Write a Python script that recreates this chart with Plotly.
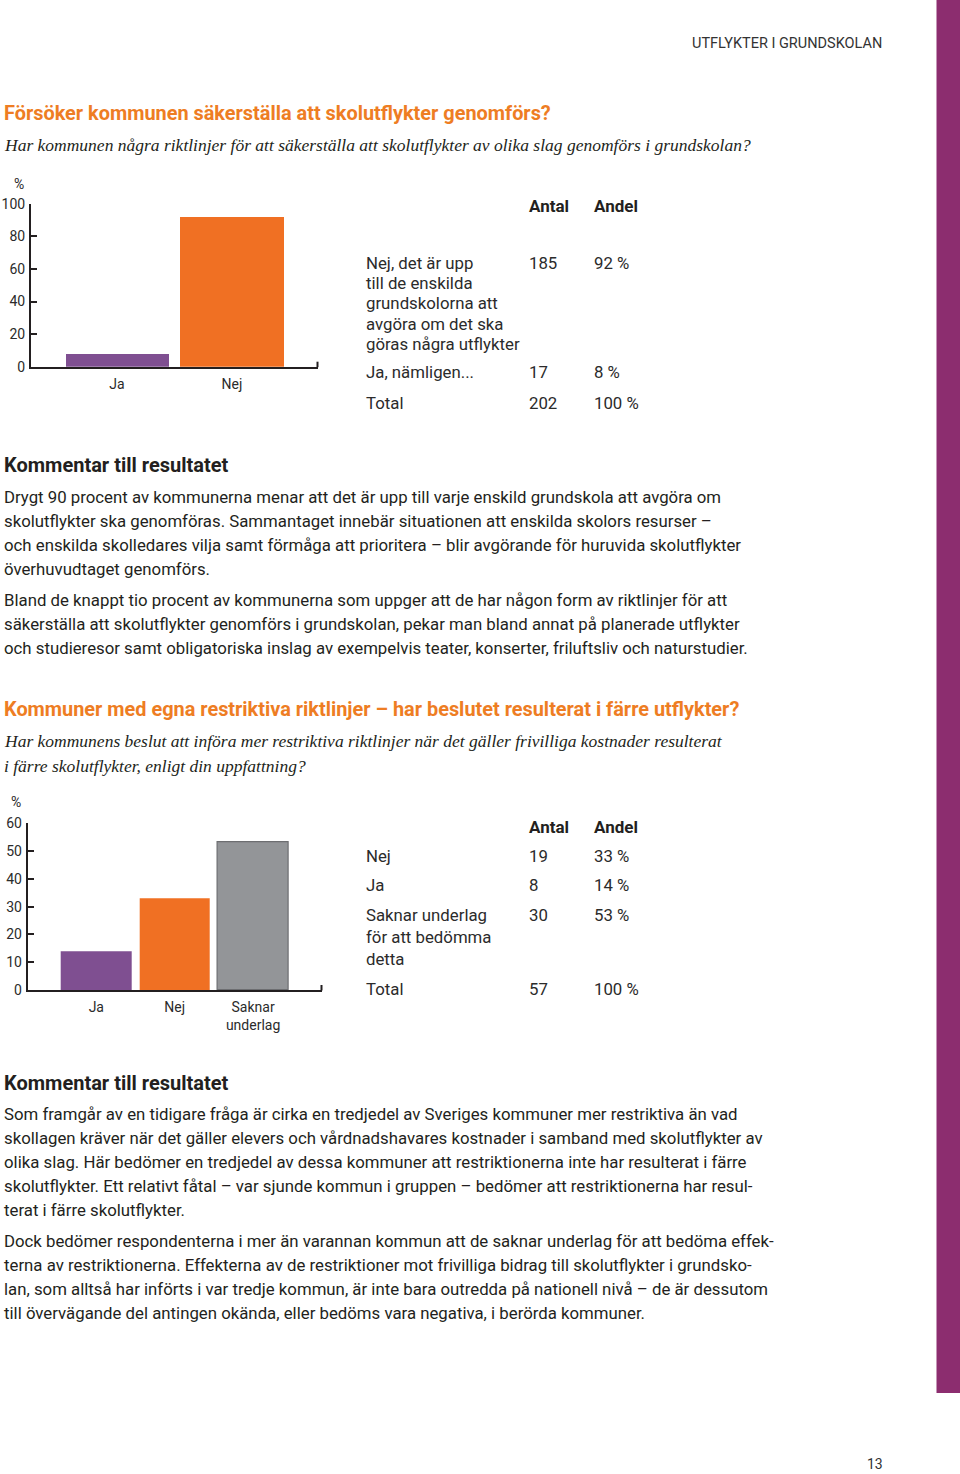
import plotly.graph_objects as go

W, H = 960, 1474

# ---------------- data ----------------
cat1 = ["Ja", "Nej"]
pct1 = [8, 92]
col1 = ["#7f4f91", "#f07023"]
y1_ticks = [0, 20, 40, 60, 80, 100]
tab1_labels = ["Nej, det är upp\ntill de enskilda\ngrundskolorna att\navgöra om det ska\ngöras några utflykter",
               "Ja, nämligen...", "Total"]
tab1_antal = [185, 17, 202]
tab1_andel = [92, 8, 100]

cat2 = ["Ja", "Nej", "Saknar<br>underlag"]
pct2 = [14, 33, 53]
col2 = ["#7f4f91", "#f07023", "#939598"]
y2_ticks = [0, 10, 20, 30, 40, 50, 60]
tab2_labels = ["Nej", "Ja", "Saknar underlag\nför att bedömma\ndetta", "Total"]
tab2_antal = [19, 8, 30, 57]
tab2_andel = [33, 14, 53, 100]

title1 = "Försöker kommunen säkerställa att skolutflykter genomförs?"
sub1 = ["Har kommunen några riktlinjer för att säkerställa att skolutflykter av olika slag genomförs i grundskolan?"]
body1 = [
    ["Drygt 90 procent av kommunerna menar att det är upp till varje enskild grundskola att avgöra om",
     "skolutflykter ska genomföras. Sammantaget innebär situationen att enskilda skolors resurser –",
     "och enskilda skolledares vilja samt förmåga att prioritera – blir avgörande för huruvida skolutflykter",
     "överhuvudtaget genomförs."],
    ["Bland de knappt tio procent av kommunerna som uppger att de har någon form av riktlinjer för att",
     "säkerställa att skolutflykter genomförs i grundskolan, pekar man bland annat på planerade utflykter",
     "och studieresor samt obligatoriska inslag av exempelvis teater, konserter, friluftsliv och naturstudier."],
]
title2 = "Kommuner med egna restriktiva riktlinjer – har beslutet resulterat i färre utflykter?"
sub2 = ["Har kommunens beslut att införa mer restriktiva riktlinjer när det gäller frivilliga kostnader resulterat",
        "i färre skolutflykter, enligt din uppfattning?"]
body2 = [
    ["Som framgår av en tidigare fråga är cirka en tredjedel av Sveriges kommuner mer restriktiva än vad",
     "skollagen kräver när det gäller elevers och vårdnadshavares kostnader i samband med skolutflykter av",
     "olika slag. Här bedömer en tredjedel av dessa kommuner att restriktionerna inte har resulterat i färre",
     "skolutflykter. Ett relativt fåtal – var sjunde kommun i gruppen – bedömer att restriktionerna har resul-",
     "terat i färre skolutflykter."],
    ["Dock bedömer respondenterna i mer än varannan kommun att de saknar underlag för att bedöma effek-",
     "terna av restriktionerna. Effekterna av de restriktioner mot frivilliga bidrag till skolutflykter i grundsko-",
     "lan, som alltså har införts i var tredje kommun, är inte bara outredda på nationell nivå – de är dessutom",
     "till övervägande del antingen okända, eller bedöms vara negativa, i berörda kommuner."],
]
comment_head = "Kommentar till resultatet"
header = "UTFLYKTER I GRUNDSKOLAN"
page_no = "13"

# ---------------- helpers ----------------
SANS = "Roboto"
SERIF = "Liberation Serif"
DARK = "#231f20"
TXT = "#2b2b2b"
ORANGE = "#ee7d23"
BODY = 16.8


def px(x):
    return x / W


def py(y):
    return 1 - y / H


annotations = []


def text(x, y, s, size=BODY, color=TXT, weight="normal", style="normal", family=SANS, xanchor="left"):
    if xanchor == "left":
        x -= 2
    elif xanchor == "right":
        x += 2
    annotations.append(dict(x=px(x), y=py(y), xref="paper", yref="paper", text=s, showarrow=False,
                            xanchor=xanchor, yanchor="middle", align="left",
                            font=dict(size=size, color=color, family=family, weight=weight, style=style)))


fig = go.Figure()

fig.add_trace(go.Bar(x=cat1, y=pct1, marker=dict(color=col1, line=dict(width=0)), width=0.896,
                     xaxis="x", yaxis="y", showlegend=False, hoverinfo="x+y"))
fig.add_trace(go.Bar(x=cat2, y=pct2,
                     marker=dict(color=col2, line=dict(color=["#6d6e71"] * 3, width=[0, 0, 1.2])),
                     width=0.905, xaxis="x2", yaxis="y2", showlegend=False, hoverinfo="x+y"))

axis_common = dict(showgrid=False, zeroline=False, showline=True, linecolor=DARK, linewidth=2,
                   tickfont=dict(size=14, color=TXT, family=SANS), fixedrange=True, automargin=False)

c1_left, c1_right, c1_top, c1_bot = 31, 318, 203.7, 366.7
c2_left, c2_right, c2_top, c2_bot = 27.7, 322, 823.3, 990

fig.update_layout(
    width=W, height=H, margin=dict(l=0, r=0, t=0, b=0, pad=0, autoexpand=False),
    paper_bgcolor="white", plot_bgcolor="white", bargap=0, showlegend=False,
    xaxis=dict(domain=[px(c1_left), px(c1_right)], range=[-0.748, 1.748], anchor="y",
               ticks="", ticklabelstandoff=3, **axis_common),
    yaxis=dict(domain=[py(c1_bot), py(c1_top)], range=[0, 100], anchor="x", tickvals=y1_ticks,
               ticks="inside", ticklen=6, tickwidth=1.5, tickcolor=DARK, ticklabelstandoff=1, **axis_common),
    xaxis2=dict(domain=[px(c2_left), px(c2_right)], range=[-0.875, 2.879], anchor="y2",
                ticks="", ticklabelstandoff=3, **axis_common),
    yaxis2=dict(domain=[py(c2_bot), py(c2_top)], range=[0, 60], anchor="x2", tickvals=y2_ticks,
                ticks="inside", ticklen=6, tickwidth=1.5, tickcolor=DARK, ticklabelstandoff=1, **axis_common),
)

shapes = [
    dict(type="rect", xref="paper", yref="paper", x0=px(936.5), x1=px(960), y0=py(1393), y1=py(0),
         fillcolor="#8c2d6f", line=dict(width=0), layer="below"),
    dict(type="line", xref="paper", yref="paper", x0=px(c1_right - 0.5), x1=px(c1_right - 0.5),
         y0=py(c1_bot + 0.5), y1=py(c1_bot - 5), line=dict(color=DARK, width=2)),
    dict(type="line", xref="paper", yref="paper", x0=px(c2_right - 0.5), x1=px(c2_right - 0.5),
         y0=py(c2_bot + 0.5), y1=py(c2_bot - 5), line=dict(color=DARK, width=2)),
]
fig.update_layout(shapes=shapes)

text(882, 44, header, size=14.5, color="#333", xanchor="right")
text(875, 1464, page_no, size=14, color="#333", xanchor="center")

# section 1
text(4, 113, title1, size=19.9, color=ORANGE, weight="bold")
text(4, 145, sub1[0], size=17.5, color=DARK, style="italic", family=SERIF)
text(19, 184, "%", size=14, xanchor="center")

text(529, 206, "Antal", size=17, color=DARK, weight="bold")
text(594, 206, "Andel", size=17, color=DARK, weight="bold")
row_y1 = [263, 372, 403]
for lab, a, p, yy in zip(tab1_labels, tab1_antal, tab1_andel, row_y1):
    for i, line in enumerate(lab.split("\n")):
        text(366, yy + i * 20.2, line)
    text(529, yy, str(a))
    text(594, yy, f"{p} %")

text(4, 465, comment_head, size=20, color=DARK, weight="bold")
y = 497
for para in body1:
    for line in para:
        text(4, y, line, color=DARK)
        y += 24
    y += 7

# section 2
text(4, 709, title2, size=19.9, color=ORANGE, weight="bold")
text(4, 741, sub2[0], size=17.5, color=DARK, style="italic", family=SERIF)
text(4, 766, sub2[1], size=17.5, color=DARK, style="italic", family=SERIF)
text(16, 802, "%", size=14, xanchor="center")

text(529, 827, "Antal", size=17, color=DARK, weight="bold")
text(594, 827, "Andel", size=17, color=DARK, weight="bold")
row_y2 = [856, 885, 915, 989]
for lab, a, p, yy in zip(tab2_labels, tab2_antal, tab2_andel, row_y2):
    for i, line in enumerate(lab.split("\n")):
        text(366, yy + i * 22, line)
    text(529, yy, str(a))
    text(594, yy, f"{p} %")

text(4, 1083, comment_head, size=20, color=DARK, weight="bold")
y = 1114
for para in body2:
    for line in para:
        text(4, y, line, color=DARK)
        y += 24
    y += 7

fig.update_layout(annotations=annotations)
fig.write_html("out.html", config={"displayModeBar": False},
               post_script="document.body.style.margin='0';document.body.style.overflow='hidden';")
